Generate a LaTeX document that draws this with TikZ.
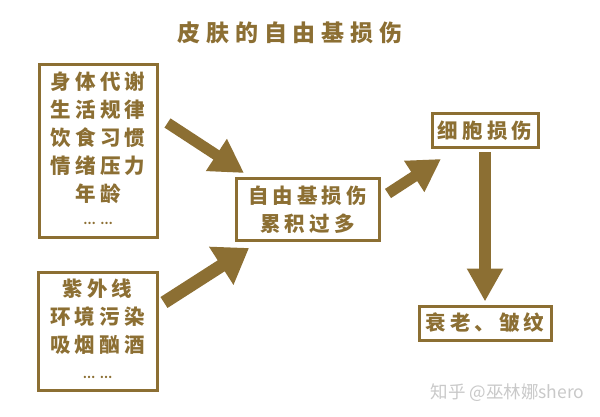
\documentclass[tikz,border=0pt]{standalone}
\usepackage{fontspec}
\usetikzlibrary{arrows.meta}
\newfontfamily\cjk{Noto Sans CJK SC}
\newfontfamily\cjkspaced{Noto Sans CJK SC}[BoldFont={Noto Sans CJK SC Black},LetterSpace=20]
\newfontfamily\cjktitle{Noto Sans CJK SC}[BoldFont={Noto Sans CJK SC Black},LetterSpace=25]
\definecolor{gold}{HTML}{8C6F33}
\definecolor{wm}{HTML}{C9C9C9}
\tikzset{
  box/.style={draw=gold,line width=3pt,text=gold,align=center,inner sep=0pt,
    font=\cjkspaced\bfseries\fontsize{20.5}{28}\selectfont},
  bigarrow/.style={draw=gold,fill=gold,line cap=butt},
}
\newcommand{\smalldots}[1]{{\fontsize{11}{28}\selectfont … …\rule[-#1pt]{0pt}{1pt}}}
\begin{document}
\begin{tikzpicture}[x=1pt,y=-1pt]
\useasboundingbox (0,0) rectangle (600,417);
\fill[white] (0,0) rectangle (600,417);
\node[text=gold,font=\cjktitle\bfseries\fontsize{23}{28}\selectfont,inner sep=0pt] (title) at (290,33) {皮肤的自由基损伤};
\node[box,minimum width=118pt,minimum height=172pt] (b1) at (98,151) {身体代谢\\生活规律\\饮食习惯\\情绪压力\\年龄\\[-5pt]\smalldots{6}};
\node[box,minimum width=119pt,minimum height=118pt] (b2) at (97.5,331) {紫外线\\环境污染\\吸烟酗酒\\[-2pt]\smalldots{5}};
\node[box,minimum width=143pt,minimum height=61pt] (b3) at (307.5,209.5) {自由基损伤\\累积过多};
\node[box,minimum width=106pt,minimum height=34pt] (b4) at (485,131) {细胞损伤};
\node[box,minimum width=132pt,minimum height=34pt] (b5) at (485,323) {衰老、皱纹};
\node[text=wm,font=\cjk\fontsize{17.5}{20}\selectfont,inner sep=0pt] (wmark) at (507.5,392.5) {知乎 @巫林娜shero};
\coordinate (a1s) at (167.5,123);
\coordinate (a1e) at (244,173);
\coordinate (a2s) at (164,302.5);
\coordinate (a2e) at (249,248);
\coordinate (a3s) at (388,193.5);
\coordinate (a3e) at (441,159);
\draw[bigarrow,line width=11pt,-{Triangle[length=33pt,width=36pt]}] (a1s) -- (a1e);
\draw[bigarrow,line width=13pt,-{Triangle[length=33pt,width=43pt]}] (a2s) -- (a2e);
\draw[bigarrow,line width=11pt,-{Triangle[length=32pt,width=35pt]}] (a3s) -- (a3e);
\draw[bigarrow,line width=11.5pt,shorten <=3pt,shorten >=3pt,-{Triangle[length=33pt,width=34pt]}] (b4.south) -- (b5.north);
\end{tikzpicture}
\end{document}
